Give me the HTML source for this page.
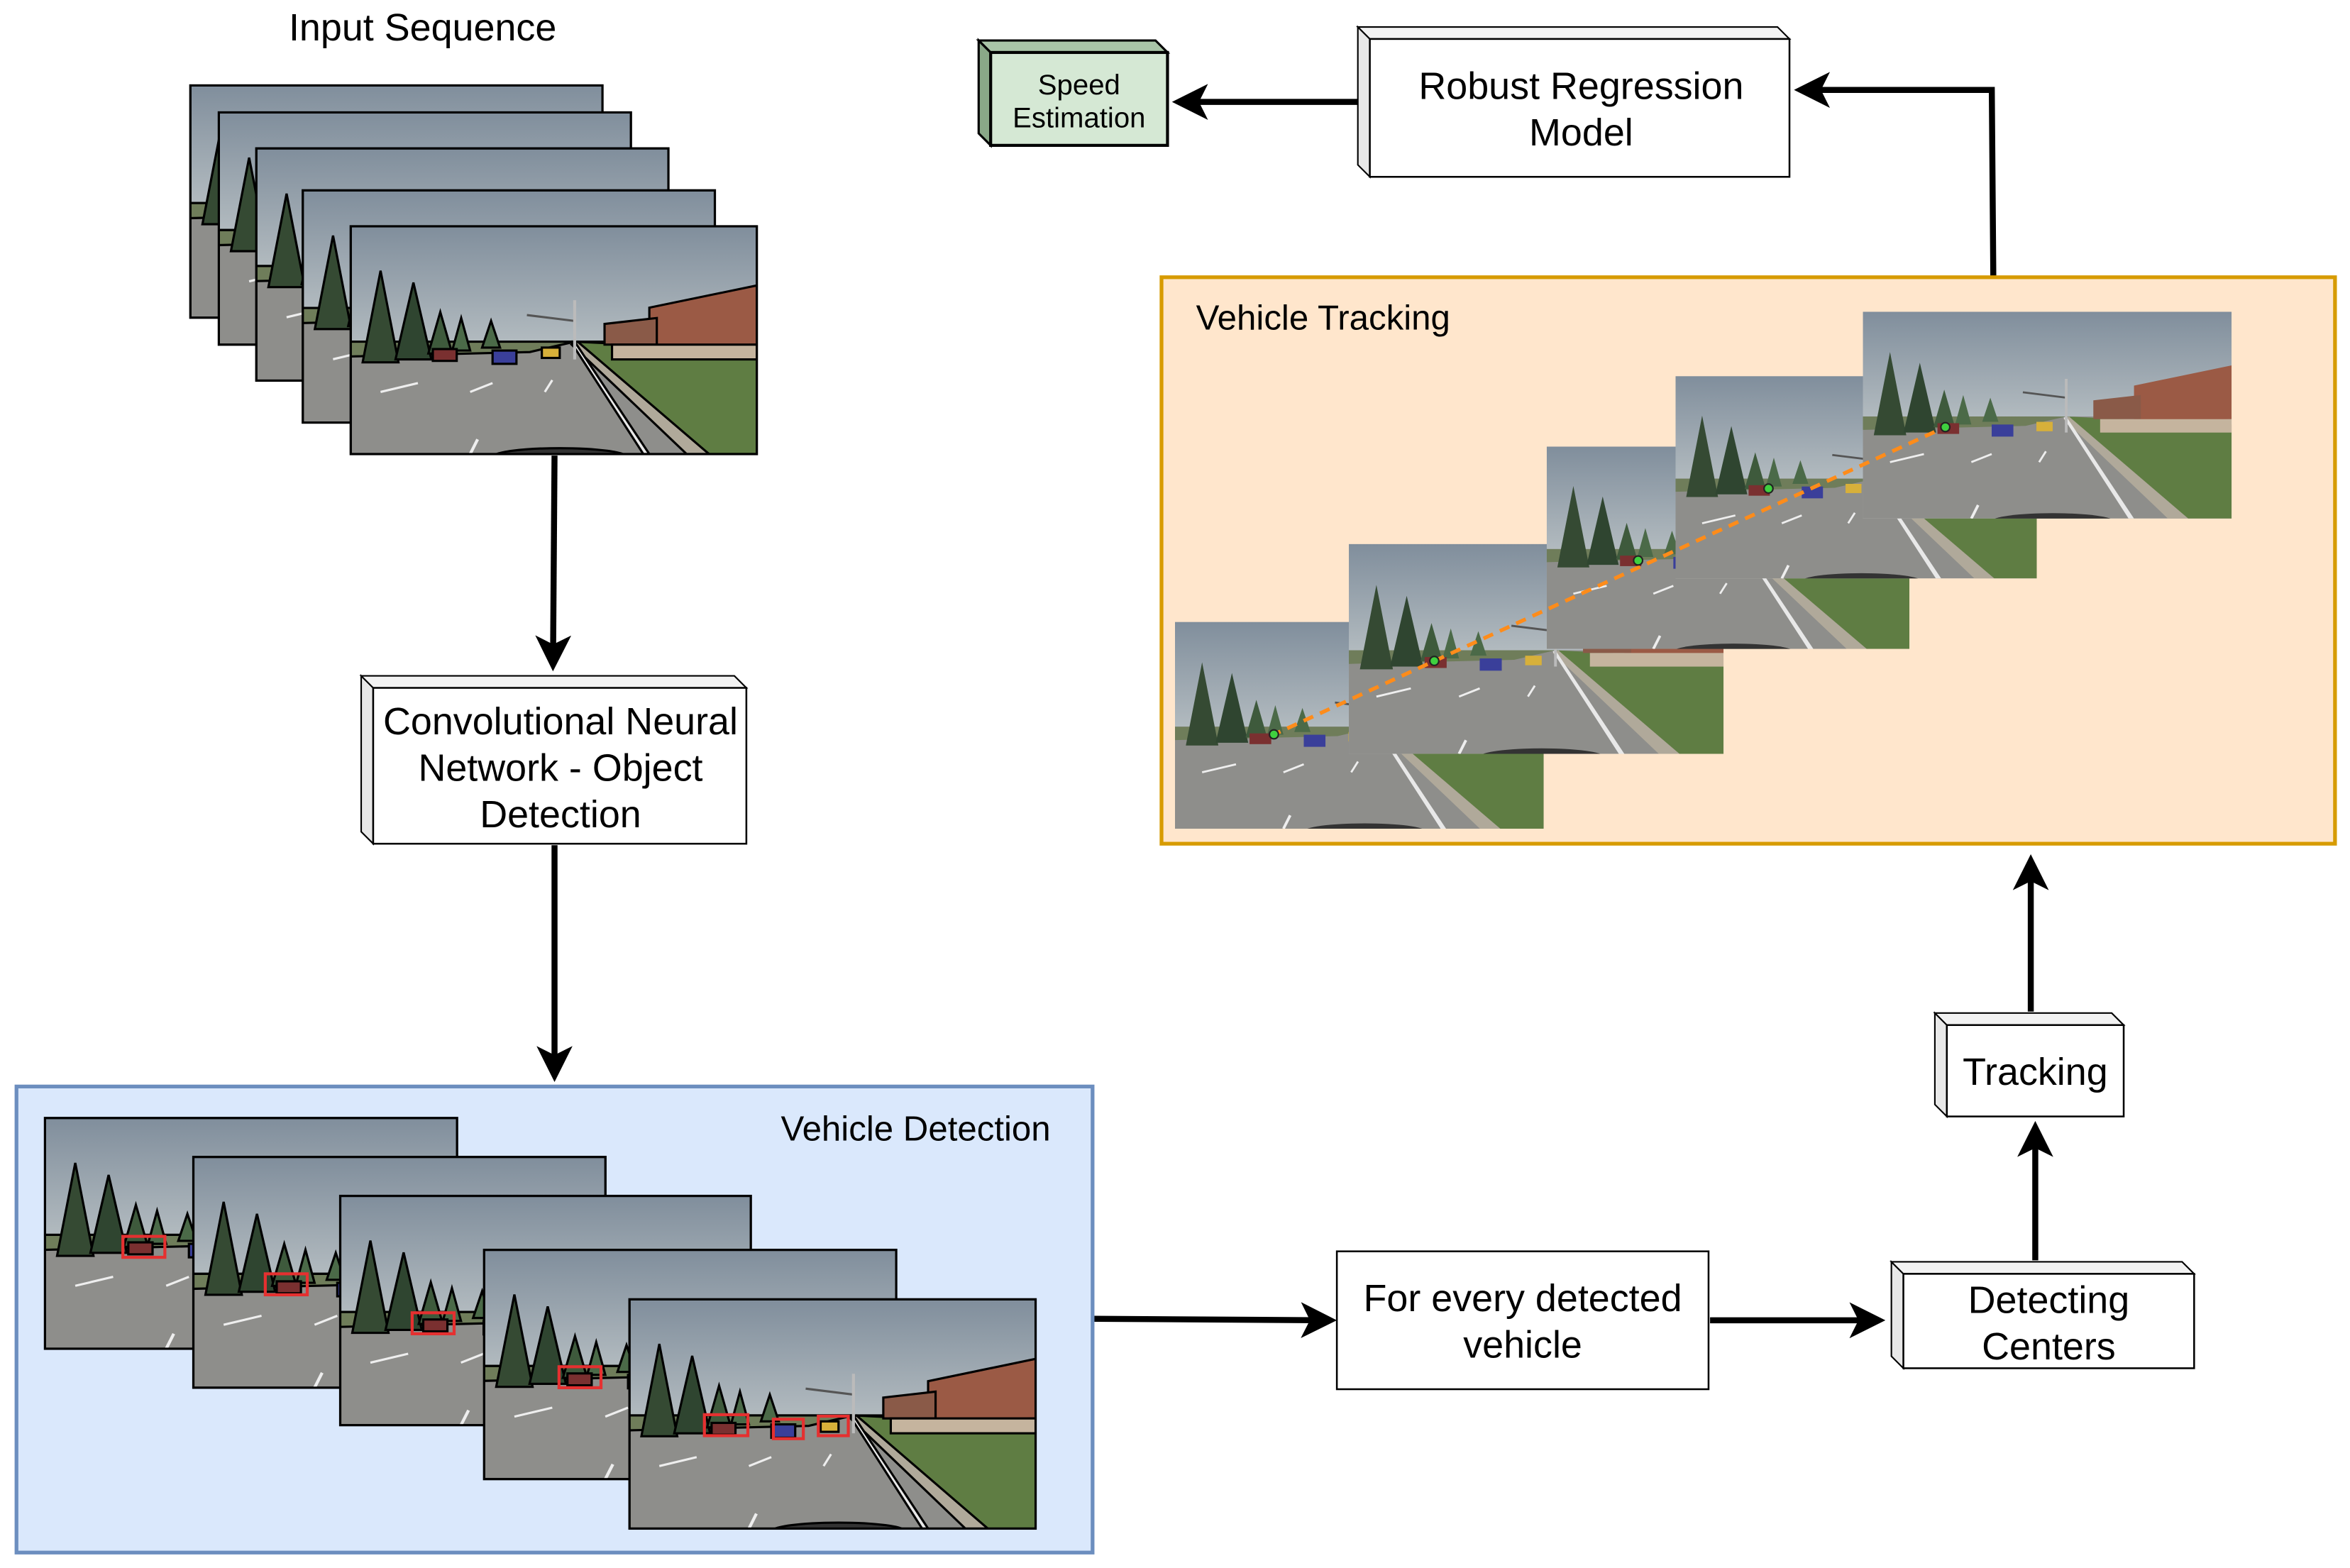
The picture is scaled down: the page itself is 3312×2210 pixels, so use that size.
<!DOCTYPE html>
<html><head><meta charset="utf-8"><style>
html,body{margin:0;padding:0;background:#fff;}
svg{display:block;}
text{font-family:"Liberation Sans",sans-serif;fill:#000;}
</style></head><body>
<svg width="3312" height="2210" viewBox="0 0 1568 1046.3" preserveAspectRatio="none" xmlns="http://www.w3.org/2000/svg">
<defs>
<linearGradient id="sky" x1="0" y1="0" x2="0" y2="1">
<stop offset="0" stop-color="#808e9c"/><stop offset="0.55" stop-color="#b6bec2"/><stop offset="1" stop-color="#dadad3"/>
</linearGradient>
<symbol id="scene" viewBox="0 0 272 154" preserveAspectRatio="none">
<rect x="0" y="0" width="272" height="154" fill="url(#sky)"/>
<rect x="0" y="78" width="272" height="76" fill="#8e8e8b"/>
<polygon points="0,78 150,78 120,85 0,88" fill="#6f7d5a"/>
<polygon points="150,78 272,84 272,154 240,154" fill="#5f7d43"/>
<polygon points="152,78 240,154 225,154 148,80" fill="#b0a99a"/>
<polygon points="150,78 200,154 196,154 148,79" fill="#e8e8e8"/>
<polygon points="200,55 272,40 272,80 200,82" fill="#9b5a45"/>
<polygon points="170,66 205,62 205,80 170,80" fill="#8a5a48"/>
<rect x="175" y="80" width="97" height="10" fill="#c5b49e"/>
<polygon points="8,92 20,30 32,92" fill="#354a33"/>
<polygon points="30,90 42,38 54,90" fill="#2f4530"/>
<polygon points="52,86 60,58 68,86" fill="#3e5a3c"/>
<polygon points="68,84 74,62 80,84" fill="#4b6a48"/>
<polygon points="88,82 94,64 100,82" fill="#4b6a48"/>
<line x1="118" y1="60" x2="150" y2="64" stroke="#555" stroke-width="1.5"/>
<line x1="150" y1="50" x2="150" y2="90" stroke="#bbb" stroke-width="2"/>
<rect x="55" y="83" width="16" height="8" fill="#7a3030"/>
<rect x="95" y="84" width="16" height="9" fill="#3a3f9a"/>
<rect x="128" y="82" width="12" height="7" fill="#d7b03a"/>
<line x1="20" y1="112" x2="45" y2="106" stroke="#eee" stroke-width="1.5"/>
<line x1="80" y1="112" x2="95" y2="106" stroke="#eee" stroke-width="1.5"/>
<line x1="130" y1="112" x2="135" y2="104" stroke="#eee" stroke-width="1.5"/>
<line x1="80" y1="154" x2="85" y2="144" stroke="#eee" stroke-width="2"/>
<ellipse cx="140" cy="156" rx="45" ry="6" fill="#333"/>
</symbol>
<marker id="ah" markerWidth="6" markerHeight="6" refX="4.5" refY="3" orient="auto" markerUnits="strokeWidth">
<path d="M0,0 L6,3 L0,6 L1.5,3 z" fill="#000"/>
</marker>
</defs>

<text x="282" y="27" font-size="25.5" text-anchor="middle">Input Sequence</text>
<g stroke="#000" stroke-width="1.5">
<use href="#scene" x="127" y="57" width="275" height="155"/><rect x="127" y="57" width="275" height="155" fill="none"/>
<use href="#scene" x="146" y="75" width="275" height="155"/><rect x="146" y="75" width="275" height="155" fill="none"/>
<use href="#scene" x="171" y="99" width="275" height="155"/><rect x="171" y="99" width="275" height="155" fill="none"/>
<use href="#scene" x="202" y="127" width="275" height="155"/><rect x="202" y="127" width="275" height="155" fill="none"/>
<use href="#scene" x="234" y="151" width="271" height="152"/><rect x="234" y="151" width="271" height="152" fill="none"/>
</g>

<g stroke="#000" stroke-width="4" fill="none" marker-end="url(#ah)">
<path d="M370,304 L369,442"/>
<path d="M370,564 L370,716"/>
<path d="M730,880 L886,881"/>
<path d="M1141,881 L1252,881"/>
<path d="M1358,841 L1358,754"/>
<path d="M1355,675 L1355,576"/>
<path d="M1330,184 L1329,60 L1203,60"/>
<path d="M906,68 L788,68"/>
</g>

<polygon points="241,451 249,459 249,563 241,555" fill="#e8e8e8" stroke="#000" stroke-width="1"/>
<polygon points="241,451 490,451 498,459 249,459" fill="#f2f2f2" stroke="#000" stroke-width="1"/>
<rect x="249" y="459" width="249" height="104" fill="#fff" stroke="#000" stroke-width="1.2"/>
<text x="374" y="490" font-size="25.5" text-anchor="middle">Convolutional Neural</text>
<text x="374" y="521" font-size="25.5" text-anchor="middle">Network - Object</text>
<text x="374" y="552" font-size="25.5" text-anchor="middle">Detection</text>

<rect x="11" y="725" width="718" height="311" fill="#dae8fc" stroke="#6c8ebf" stroke-width="2.5"/>
<text x="611" y="761" font-size="23.3" text-anchor="middle">Vehicle Detection</text>
<g stroke="#000" stroke-width="1.5">
<use href="#scene" x="30" y="746" width="275" height="154"/><rect x="30" y="746" width="275" height="154" fill="none"/>
<use href="#scene" x="129" y="772" width="275" height="154"/><rect x="129" y="772" width="275" height="154" fill="none"/>
<use href="#scene" x="227" y="798" width="274" height="153"/><rect x="227" y="798" width="274" height="153" fill="none"/>
<use href="#scene" x="323" y="834" width="275" height="153"/><rect x="323" y="834" width="275" height="153" fill="none"/>
<use href="#scene" x="420" y="867" width="271" height="153"/><rect x="420" y="867" width="271" height="153" fill="none"/>
</g>
<g fill="none" stroke="#e53030" stroke-width="2">
<rect x="82" y="825" width="28" height="14"/>
<rect x="177" y="850" width="28" height="14"/>
<rect x="275" y="876" width="28" height="14"/>
<rect x="373" y="912" width="28" height="14"/>
<rect x="470" y="944" width="29" height="14"/>
<rect x="516" y="947" width="20" height="13"/>
<rect x="546" y="945" width="20" height="13"/>
</g>

<rect x="892" y="835" width="248" height="92" fill="#fff" stroke="#000" stroke-width="1.2"/>
<text x="1016" y="875" font-size="25.5" text-anchor="middle">For every detected</text>
<text x="1016" y="906" font-size="25.5" text-anchor="middle">vehicle</text>

<polygon points="1262,842 1270,850 1270,913 1262,905" fill="#e8e8e8" stroke="#000" stroke-width="1"/>
<polygon points="1262,842 1456,842 1464,850 1270,850" fill="#f2f2f2" stroke="#000" stroke-width="1"/>
<rect x="1270" y="850" width="194" height="63" fill="#fff" stroke="#000" stroke-width="1.2"/>
<text x="1367" y="876" font-size="25.5" text-anchor="middle">Detecting</text>
<text x="1367" y="907" font-size="25.5" text-anchor="middle">Centers</text>

<polygon points="1291,676 1299,684 1299,745 1291,737" fill="#e8e8e8" stroke="#000" stroke-width="1"/>
<polygon points="1291,676 1409,676 1417,684 1299,684" fill="#f2f2f2" stroke="#000" stroke-width="1"/>
<rect x="1299" y="684" width="118" height="61" fill="#fff" stroke="#000" stroke-width="1.2"/>
<text x="1358" y="724" font-size="25.5" text-anchor="middle">Tracking</text>

<rect x="775" y="185" width="783" height="378" fill="#ffe6cc" stroke="#d79b00" stroke-width="2.5"/>
<text x="798" y="220" font-size="23.3">Vehicle Tracking</text>
<use href="#scene" x="784" y="415" width="246" height="138"/>
<use href="#scene" x="900" y="363" width="250" height="140"/>
<use href="#scene" x="1032" y="298" width="242" height="135"/>
<use href="#scene" x="1118" y="251" width="241" height="135"/>
<use href="#scene" x="1243" y="208" width="246" height="138"/>
<path d="M848,491 L1300,284" stroke="#ff8c1a" stroke-width="2.5" stroke-dasharray="7,5" fill="none"/>
<g fill="#3fd03f" stroke="#222" stroke-width="1">
<circle cx="850" cy="490" r="3"/><circle cx="957" cy="441" r="3"/><circle cx="1093" cy="374" r="3"/><circle cx="1180" cy="326" r="3"/><circle cx="1298" cy="285" r="3"/>
</g>

<polygon points="906,18 914,26 914,118 906,110" fill="#e8e8e8" stroke="#000" stroke-width="1"/>
<polygon points="906,18 1186,18 1194,26 914,26" fill="#f2f2f2" stroke="#000" stroke-width="1"/>
<rect x="914" y="26" width="280" height="92" fill="#fff" stroke="#000" stroke-width="1.2"/>
<text x="1055" y="66" font-size="25.5" text-anchor="middle">Robust Regression</text>
<text x="1055" y="97" font-size="25.5" text-anchor="middle">Model</text>

<polygon points="653,27 661,35 661,97 653,89" fill="#8aa888" stroke="#000" stroke-width="1.5"/>
<polygon points="653,27 771,27 779,35 661,35" fill="#a9c4a7" stroke="#000" stroke-width="1.5"/>
<rect x="661" y="35" width="118" height="62" fill="#d5e8d4" stroke="#000" stroke-width="2"/>
<text x="720" y="63" font-size="19" text-anchor="middle">Speed</text>
<text x="720" y="85" font-size="19" text-anchor="middle">Estimation</text>
</svg>
</body></html>
